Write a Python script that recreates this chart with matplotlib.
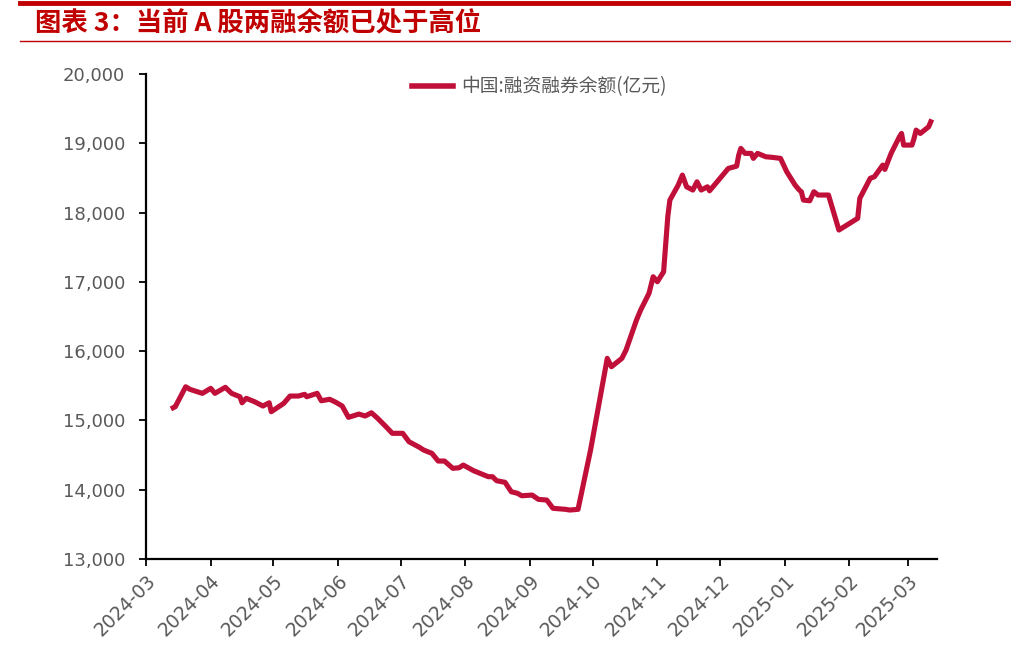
import pandas as pd
import matplotlib.pyplot as plt
import matplotlib.dates as mdates
from matplotlib.lines import Line2D

plt.rcParams['font.family'] = ['Noto Sans CJK SC', 'DejaVu Sans']

# Data
dates = [
    '2024-03-14', '2024-03-15', '2024-03-20', '2024-03-22', '2024-03-28',
    '2024-04-01', '2024-04-03', '2024-04-08', '2024-04-11', '2024-04-15',
    '2024-04-16', '2024-04-18', '2024-04-22', '2024-04-26', '2024-04-29',
    '2024-04-30', '2024-05-06', '2024-05-09', '2024-05-13', '2024-05-16',
    '2024-05-17', '2024-05-22', '2024-05-24', '2024-05-28', '2024-05-31',
    '2024-06-03', '2024-06-06', '2024-06-11', '2024-06-14', '2024-06-17',
    '2024-06-20', '2024-06-24', '2024-06-27', '2024-07-02', '2024-07-05',
    '2024-07-10', '2024-07-12', '2024-07-16', '2024-07-19', '2024-07-22',
    '2024-07-26', '2024-07-29', '2024-07-31', '2024-08-05', '2024-08-08',
    '2024-08-12', '2024-08-14', '2024-08-16', '2024-08-20', '2024-08-23',
    '2024-08-26', '2024-08-28', '2024-09-02', '2024-09-05', '2024-09-09',
    '2024-09-12', '2024-09-18', '2024-09-20', '2024-09-24', '2024-09-30',
    '2024-10-08', '2024-10-10', '2024-10-15', '2024-10-17', '2024-10-22',
    '2024-10-24', '2024-10-28', '2024-10-30', '2024-11-01', '2024-11-04',
    '2024-11-06', '2024-11-07', '2024-11-11', '2024-11-13', '2024-11-15',
    '2024-11-18', '2024-11-20', '2024-11-22', '2024-11-25', '2024-11-26',
    '2024-11-29', '2024-12-03', '2024-12-05', '2024-12-09', '2024-12-10',
    '2024-12-11', '2024-12-13', '2024-12-16', '2024-12-17', '2024-12-19',
    '2024-12-23', '2024-12-26', '2024-12-30', '2025-01-02', '2025-01-03',
    '2025-01-06', '2025-01-08', '2025-01-09', '2025-01-10', '2025-01-13',
    '2025-01-15', '2025-01-17', '2025-01-22', '2025-01-27', '2025-02-05',
    '2025-02-06', '2025-02-11', '2025-02-13', '2025-02-17', '2025-02-18',
    '2025-02-21', '2025-02-25', '2025-02-26', '2025-02-27', '2025-03-03',
    '2025-03-04', '2025-03-05', '2025-03-07', '2025-03-11', '2025-03-12',
]
balance = [
    15183, 15198, 15486, 15449, 15391,
    15463, 15391, 15478, 15391, 15342,
    15255, 15319, 15270, 15208, 15255,
    15126, 15247, 15352, 15352, 15377,
    15342, 15391, 15284, 15305, 15261,
    15208, 15045, 15092, 15064, 15111,
    15030, 14909, 14814, 14814, 14693,
    14612, 14573, 14525, 14414, 14414,
    14309, 14317, 14356, 14274, 14237,
    14188, 14188, 14130, 14107, 13971,
    13948, 13913, 13923, 13861, 13851,
    13732, 13717, 13707, 13717, 14573,
    15896, 15775, 15896, 16016, 16449,
    16593, 16834, 17074, 17002, 17146,
    17940, 18180, 18397, 18541, 18372,
    18325, 18444, 18325, 18372, 18314,
    18421, 18565, 18637, 18670, 18830,
    18926, 18854, 18854, 18782, 18854,
    18805, 18797, 18782, 18589, 18541,
    18397, 18325, 18300, 18180, 18170,
    18301, 18253, 18253, 17748, 17917,
    18205, 18494, 18517, 18685, 18623,
    18854, 19094, 19142, 18974, 18974,
    19070, 19190, 19142, 19238, 19310,
]
series_name = '中国:融资融券余额(亿元)'
title = '图表 3：当前 A 股两融余额已处于高位'

dates = pd.to_datetime(dates)
line_color = '#C0103A'
label_color = '#595959'

fig = plt.figure(figsize=(10.12, 6.45), dpi=100)
ax = fig.add_axes([0.1443, 0.1333, 0.7816, 0.752])

ax.plot(dates, balance, color=line_color, linewidth=3.7, solid_joinstyle='round')

ax.set_ylim(13000, 20000)
ax.set_yticks(range(13000, 20001, 1000))
ax.yaxis.set_major_formatter(plt.FuncFormatter(lambda v, p: f'{int(v):,}'))
ax.set_xlim(pd.Timestamp('2024-03-01'), pd.Timestamp('2025-03-15'))
ax.xaxis.set_major_locator(mdates.MonthLocator())
ax.xaxis.set_major_formatter(mdates.DateFormatter('%Y-%m'))

for s in ['top', 'right']:
    ax.spines[s].set_visible(False)
for s in ['left', 'bottom']:
    ax.spines[s].set_linewidth(1.6)
    ax.spines[s].set_color('black')

ax.tick_params(axis='both', direction='out', length=5, width=1.3, colors='black',
               labelcolor=label_color)
ax.tick_params(axis='y', labelsize=13, pad=10)
ax.tick_params(axis='x', labelsize=13.5, pad=4)
for lbl in ax.get_yticklabels() + ax.get_xticklabels():
    lbl.set_family(['DejaVu Sans'])
for lbl in ax.get_xticklabels():
    lbl.set_rotation(45)
    lbl.set_ha('right')
    lbl.set_rotation_mode('anchor')

# legend
handle = Line2D([], [], color=line_color, linewidth=4)
leg = ax.legend([handle], [series_name], loc='upper left', bbox_to_anchor=(0.315, 1.03),
                frameon=False, fontsize=13.5, handlelength=2.2, handletextpad=0.4)
for t in leg.get_texts():
    t.set_color(label_color)

# title and rules
fig.add_artist(Line2D([0.02, 1.0], [0.995, 0.995], color='#C00000', linewidth=3.5))
fig.add_artist(Line2D([0.02, 1.0], [0.937, 0.937], color='#C00000', linewidth=1.0))
fig.text(0.035, 0.964, title, color='#C00000', fontsize=19, fontweight='bold',
         fontstyle='italic', va='center', ha='left')

fig.savefig('out.png', dpi=100)
